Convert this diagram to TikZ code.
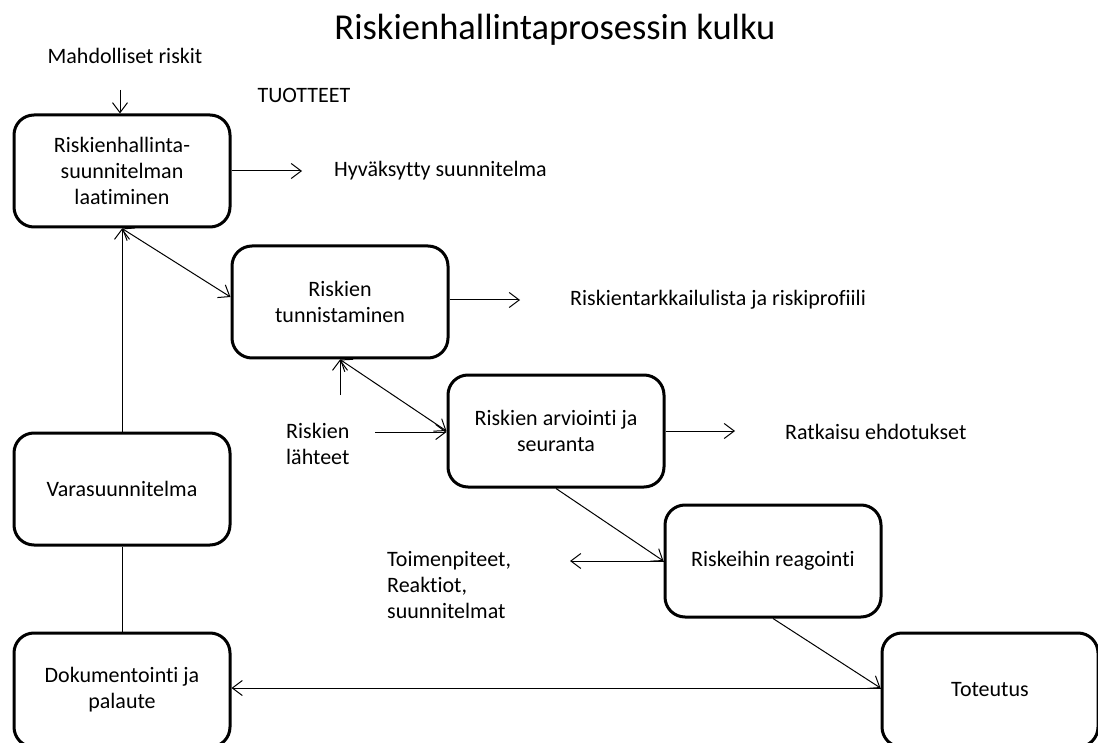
\documentclass[tikz,border=0pt]{standalone}
\usepackage{fontspec}
\setmainfont{Carlito}[Ligatures=NoCommon]
\usetikzlibrary{arrows.meta}
\begin{document}
\begin{tikzpicture}[x=1pt,y=-1pt,
  txt/.style={font=\fontsize{22}{26}\selectfont, inner sep=0pt},
  box/.style={txt, draw, line width=3pt, rounded corners=20pt,
    minimum width=216pt, minimum height=112pt, align=center},
  lbl/.style={txt, align=left},
  tip/.tip={Straight Barb[length=10pt,width=15pt]},
  conn/.style={line width=1pt, -tip},
  both/.style={line width=1pt, tip-tip},
  plain/.style={line width=1pt}
]
\useasboundingbox (0,0) rectangle (1098,743);
\clip (0,0) rectangle (1098,743);

% title and column heading
\node[txt, font=\fontsize{36.5}{42}\selectfont] (title) at (555,30) {Riskienhallintaprosessin kulku};
\node[txt] (inp) at (125,56) {Mahdolliset riskit};
\node[txt] (prod) at (304,95) {TUOTTEET};

% process steps
\node[box] (plan) at (122,171) {Riskienhallinta-\\suunnitelman\\laatiminen};
\node[box] (ident) at (340,302) {Riskien\\tunnistaminen};
\node[box] (eval) at (556,431) {Riskien arviointi ja\\seuranta};
\node[box] (react) at (773,561) {Riskeihin reagointi};
\node[box, minimum height=114pt] (impl) at (990,690) {Toteutus};
\node[box] (backup) at (122,489) {Varasuunnitelma};
\node[box, minimum height=114pt] (doc) at (122,690) {Dokumentointi ja\\palaute};

% outputs and inputs
\node[lbl, anchor=west] (out1) at (334,171) {Hyväksytty suunnitelma};
\node[lbl, anchor=west] (out2) at (570,300) {Riskientarkkailulista ja riskiprofiili};
\node[lbl, anchor=west] (out3) at (785,432) {Ratkaisu ehdotukset};
\node[lbl, anchor=west] (src) at (286,444) {Riskien\\lähteet};
\node[lbl, anchor=west] (acts) at (387,585) {Toimenpiteet,\\Reaktiot,\\suunnitelmat};

\coordinate (inpEnd) at (120,90);
\coordinate (out1End) at (302,171);
\coordinate (out2End) at (520,300);
\coordinate (out3End) at (735,432);
\coordinate (upStart) at (340,395);
\coordinate (srcStart) at (375,432);
\coordinate (actsEnd) at (570,561);

% connectors
\draw[conn] (inpEnd) -- (inpEnd |- plan.north);
\draw[conn] (plan.east) -- (out1End);
\draw[both] (plan.south) -- ([yshift=5pt]ident.west);
\draw[conn] (backup.north) -- (plan.south);
\draw[conn] ([yshift=2pt]ident.east) -- ([yshift=2pt]ident.east -| out2End);
\draw[conn] (upStart) -- (upStart |- ident.south);
\draw[both] (ident.south) -- (eval.west);
\draw[conn] (srcStart) -- (srcStart -| eval.west);
\draw[conn] (eval.east) -- (eval.east -| out3End);
\draw[conn] (eval.south) -- (react.west);
\draw[conn] (react.west) -- (actsEnd);
\draw[conn] (react.south) -- ([yshift=2pt]impl.west);
\draw[conn] ([yshift=2pt]impl.west) -- ([yshift=2pt]impl.west -| doc.east);
\draw[plain] (backup.south) -- (doc.north);
\end{tikzpicture}
\end{document}
